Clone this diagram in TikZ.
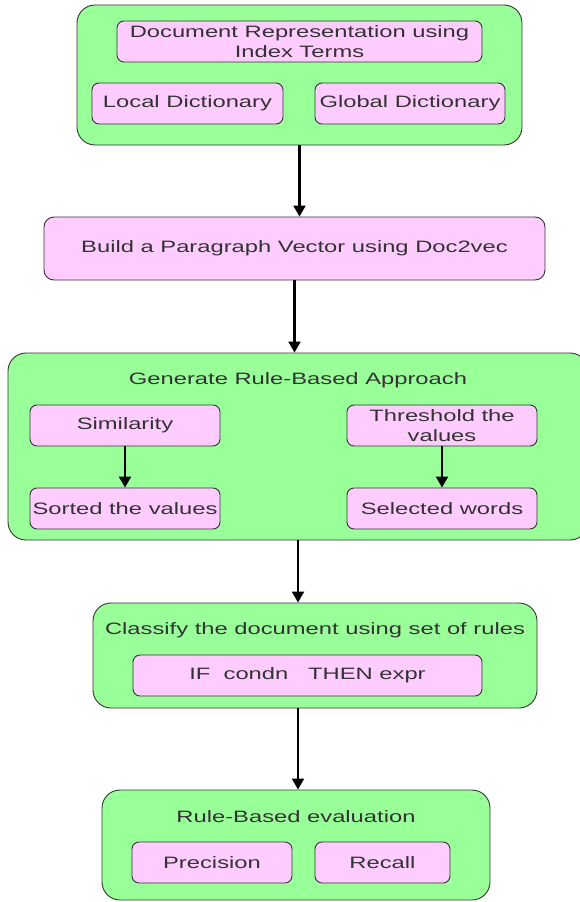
\documentclass[tikz,border=0pt]{standalone}
\usepackage{fontspec}
\setmainfont[FakeStretch=1.44]{Liberation Sans}
\usepackage{tikz}
\usetikzlibrary{arrows.meta, positioning}
\usepackage{xcolor}
\definecolor{mint}{HTML}{99FF99}
\definecolor{blush}{HTML}{FFCCFF}
\definecolor{inkgray}{HTML}{333333}

\tikzset{
  stagebox/.style={draw=inkgray, fill=mint, rounded corners=18pt, line width=0.9pt},
  itembox/.style={draw=inkgray, fill=blush, rounded corners=7pt, line width=0.9pt,
                  align=center, inner sep=0pt, text=inkgray},
  stagetitle/.style={text=inkgray, inner sep=0pt},
  flow/.style={-{Triangle[length=11pt, width=12pt]}, line width=2.2pt, black}
}

\begin{document}
\begin{tikzpicture}[x=1pt, y=-1pt, font=\fontsize{16.5}{20.5}\selectfont]
  \useasboundingbox (0,0) rectangle (580,902);

  % stage 1: index terms
  \node[stagebox, minimum width=445pt, minimum height=140pt] (terms) at (299.5,75) {};
  \node[itembox, minimum width=365pt, minimum height=41pt] (docrep) at (299.5,41.5) {Document Representation using\\Index Terms};
  \node[itembox, minimum width=191pt, minimum height=41pt] (localdict) at (187.5,103.5) {Local Dictionary};
  \node[itembox, minimum width=190pt, minimum height=41pt] (globaldict) at (410,103.5) {Global Dictionary};

  % stage 2: paragraph vector
  \node[itembox, rounded corners=10pt, minimum width=501pt, minimum height=63pt] (parvec) at (294.5,248.5) {Build a Paragraph Vector using Doc2vec};

  % stage 3: rule generation
  \node[stagebox, minimum width=580pt, minimum height=187pt] (rulegen) at (298,446.5) {};
  \node[stagetitle] (rulegentitle) at (298,380) {Generate Rule-Based Approach};
  \node[itembox, minimum width=190pt, minimum height=41pt] (similarity) at (125,425.5) {Similarity};
  \node[itembox, minimum width=190pt, minimum height=41pt] (threshold) at (442,425.5) {Threshold the\\values};
  \node[itembox, minimum width=190pt, minimum height=41pt] (sorted) at (125,508.5) {Sorted the values};
  \node[itembox, minimum width=190pt, minimum height=41pt] (selected) at (442,508.5) {Selected words};

  % stage 4: classification
  \node[stagebox, minimum width=444pt, minimum height=105pt] (classify) at (315,655.5) {};
  \node[stagetitle] (classifytitle) at (315,630) {Classify the document using set of rules};
  \node[itembox, minimum width=349pt, minimum height=41pt] (ifthen) at (307.5,675.5) {IF~~condn~~~THEN expr};

  % stage 5: evaluation
  \node[stagebox, minimum width=388pt, minimum height=110pt] (evaluation) at (296,845) {};
  \node[stagetitle] (evaluationtitle) at (296,817) {Rule-Based evaluation};
  \node[itembox, minimum width=160pt, minimum height=41pt] (precision) at (212,862.5) {Precision};
  \node[itembox, minimum width=135pt, minimum height=41pt] (recall) at (382.5,862.5) {Recall};

  % connectors
  \draw[flow] (terms.south) -- (terms.south |- parvec.north);
  \draw[flow] (parvec.south) -- (parvec.south |- rulegen.north);
  \draw[flow] (similarity) -- (sorted);
  \draw[flow] (threshold) -- (selected);
  \draw[flow] (rulegen.south) -- (rulegen.south |- classify.north);
  \draw[flow] (classify.south -| rulegen.south) -- (rulegen.south |- evaluation.north);
\end{tikzpicture}
\end{document}
